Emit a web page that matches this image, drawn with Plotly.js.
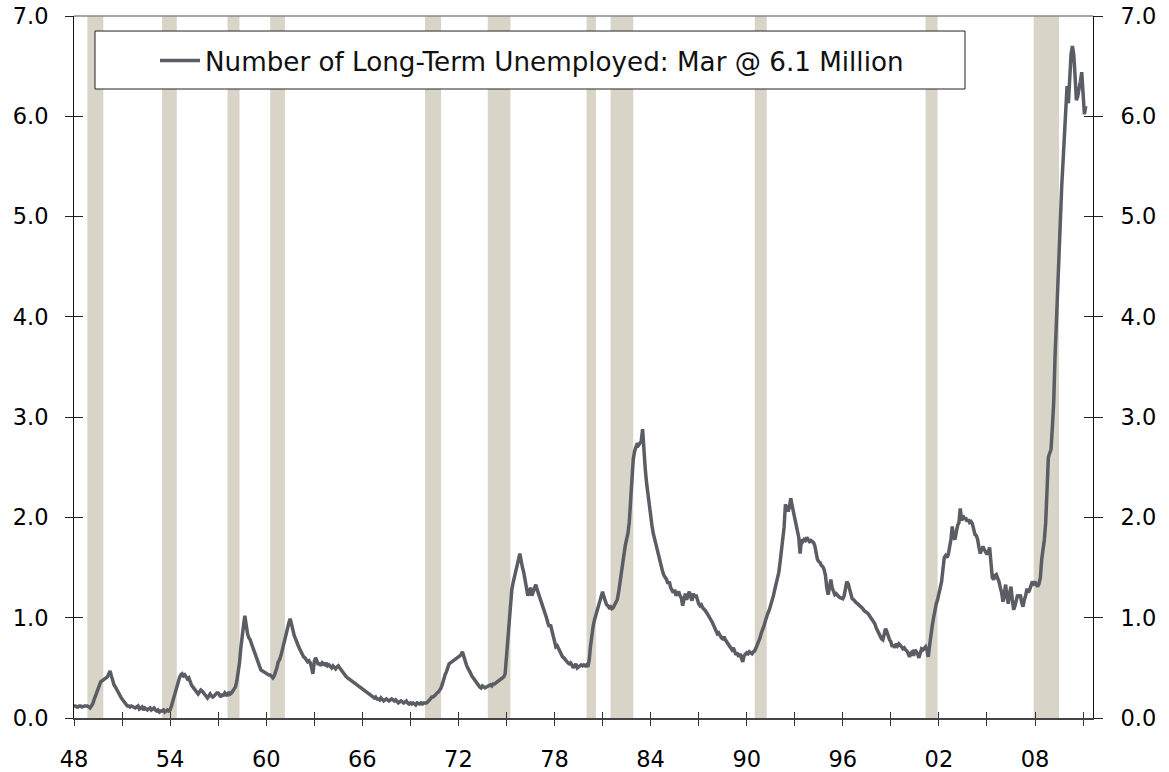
<!DOCTYPE html>
<html>
<head>
<meta charset="utf-8">
<script src="https://cdn.plot.ly/plotly-3.0.1.min.js"></script>
<style>html,body{margin:0;padding:0;background:#fff;}#chart{width:1169px;height:772px;}</style>
</head>
<body>
<div id="chart"></div>
<script>
// Number of long-term unemployed (27 weeks and over), millions, monthly from Jan 1948
const startYear = 1948;
const lt1948_1957 = [
 0.12,0.12,0.11,0.11,0.12,0.12,0.11,0.12,0.12,0.12,0.12,0.11,
 0.10,0.12,0.14,0.18,0.22,0.26,0.30,0.34,0.36,0.37,0.38,0.39,
 0.40,0.41,0.44,0.47,0.42,0.37,0.33,0.31,0.28,0.26,0.23,0.21,
 0.19,0.17,0.15,0.13,0.12,0.12,0.11,0.12,0.11,0.11,0.10,0.11,
 0.12,0.09,0.10,0.11,0.08,0.10,0.09,0.08,0.09,0.10,0.08,0.09,
 0.10,0.08,0.07,0.08,0.06,0.07,0.07,0.08,0.06,0.07,0.08,0.07,
 0.08,0.12,0.17,0.22,0.27,0.33,0.37,0.40,0.43,0.44,0.42,0.43,
 0.41,0.39,0.40,0.36,0.33,0.31,0.29,0.27,0.25,0.24,0.26,0.28,
 0.27,0.25,0.23,0.21,0.20,0.22,0.24,0.22,0.21,0.22,0.24,0.25,
 0.25,0.23,0.21,0.24,0.22,0.25,0.24,0.22,0.26,0.24,0.25,0.27
];
const lt1958_1967 = [
 0.28,0.31,0.37,0.46,0.55,0.70,0.85,0.92,1.02,0.90,0.84,0.80,
 0.78,0.74,0.70,0.66,0.62,0.58,0.54,0.51,0.48,0.47,0.46,0.46,
 0.45,0.44,0.43,0.43,0.42,0.40,0.42,0.45,0.50,0.56,0.58,0.62,
 0.68,0.72,0.78,0.84,0.90,0.95,0.99,0.92,0.86,0.82,0.79,0.74,
 0.72,0.69,0.66,0.63,0.61,0.60,0.58,0.56,0.57,0.55,0.50,0.44,
 0.56,0.60,0.57,0.53,0.55,0.52,0.55,0.54,0.53,0.55,0.52,0.53,
 0.52,0.50,0.52,0.50,0.49,0.51,0.52,0.50,0.48,0.46,0.44,0.42,
 0.41,0.40,0.39,0.38,0.37,0.36,0.35,0.35,0.34,0.32,0.31,0.30,
 0.29,0.28,0.27,0.26,0.25,0.24,0.23,0.22,0.21,0.20,0.21,0.19,
 0.19,0.18,0.20,0.18,0.17,0.18,0.19,0.18,0.17,0.18,0.19,0.18
];
const lt1968_1977 = [
 0.17,0.18,0.16,0.15,0.16,0.17,0.16,0.15,0.16,0.17,0.15,0.14,
 0.15,0.14,0.15,0.14,0.13,0.15,0.14,0.14,0.15,0.14,0.15,0.15,
 0.15,0.16,0.17,0.19,0.21,0.21,0.22,0.24,0.25,0.26,0.28,0.30,
 0.34,0.40,0.43,0.46,0.50,0.54,0.55,0.56,0.57,0.58,0.59,0.60,
 0.60,0.62,0.63,0.66,0.61,0.56,0.53,0.50,0.48,0.45,0.42,0.40,
 0.38,0.36,0.34,0.32,0.31,0.30,0.32,0.31,0.30,0.31,0.32,0.32,
 0.33,0.32,0.34,0.34,0.35,0.36,0.37,0.37,0.38,0.40,0.41,0.44,
 0.60,0.75,0.95,1.15,1.28,1.35,1.40,1.48,1.52,1.58,1.64,1.55,
 1.50,1.45,1.38,1.28,1.22,1.25,1.30,1.22,1.26,1.30,1.33,1.28,
 1.24,1.20,1.17,1.14,1.10,1.05,1.00,0.95,0.91,0.93,0.88,0.83
];
const lt1978_1987 = [
 0.76,0.71,0.72,0.69,0.66,0.63,0.61,0.60,0.58,0.57,0.55,0.54,
 0.55,0.53,0.50,0.52,0.54,0.50,0.51,0.52,0.53,0.52,0.53,0.52,
 0.53,0.51,0.58,0.72,0.85,0.92,0.98,1.03,1.08,1.11,1.18,1.24,
 1.26,1.21,1.15,1.13,1.12,1.10,1.11,1.09,1.10,1.13,1.16,1.18,
 1.25,1.35,1.47,1.58,1.66,1.72,1.78,1.84,1.95,2.15,2.41,2.58,
 2.66,2.71,2.74,2.72,2.74,2.76,2.88,2.62,2.48,2.34,2.22,2.12,
 2.02,1.92,1.84,1.78,1.72,1.66,1.60,1.56,1.52,1.46,1.42,1.40,
 1.38,1.34,1.36,1.30,1.27,1.25,1.28,1.22,1.24,1.26,1.22,1.20,
 1.12,1.20,1.24,1.18,1.22,1.26,1.21,1.17,1.24,1.20,1.23,1.18,
 1.14,1.12,1.13,1.10,1.09,1.07,1.05,1.03,1.01,0.98,0.96,0.93
];
const lt1988_1997 = [
 0.90,0.86,0.84,0.85,0.82,0.80,0.79,0.81,0.78,0.76,0.74,0.72,
 0.70,0.68,0.70,0.66,0.63,0.65,0.61,0.64,0.59,0.56,0.62,0.64,
 0.65,0.64,0.66,0.65,0.64,0.66,0.67,0.70,0.73,0.76,0.80,0.85,
 0.88,0.92,0.97,1.02,1.05,1.08,1.12,1.17,1.22,1.28,1.33,1.38,
 1.45,1.55,1.66,1.76,1.90,2.13,2.10,2.06,2.10,2.19,2.12,2.05,
 1.98,1.94,1.85,1.80,1.64,1.78,1.76,1.78,1.77,1.80,1.78,1.76,
 1.77,1.76,1.75,1.72,1.64,1.58,1.56,1.55,1.52,1.51,1.48,1.42,
 1.30,1.23,1.30,1.38,1.30,1.25,1.23,1.24,1.22,1.21,1.20,1.19,
 1.19,1.22,1.32,1.36,1.34,1.28,1.22,1.19,1.18,1.16,1.15,1.14,
 1.13,1.12,1.10,1.09,1.07,1.06,1.06,1.04,1.02,1.00,0.98,0.96
];
const lt1998_2007 = [
 0.94,0.90,0.87,0.84,0.82,0.79,0.78,0.84,0.89,0.86,0.80,0.78,
 0.76,0.71,0.73,0.70,0.74,0.72,0.74,0.73,0.71,0.69,0.70,0.68,
 0.67,0.64,0.61,0.65,0.66,0.62,0.68,0.66,0.64,0.60,0.66,0.69,
 0.68,0.70,0.71,0.68,0.61,0.72,0.85,0.92,1.00,1.08,1.14,1.18,
 1.24,1.30,1.36,1.48,1.60,1.62,1.60,1.63,1.70,1.78,1.91,1.80,
 1.78,1.86,1.92,1.95,2.09,1.97,2.02,1.98,2.00,1.96,1.98,1.95,
 1.96,1.94,1.88,1.83,1.82,1.78,1.70,1.64,1.68,1.71,1.68,1.66,
 1.63,1.66,1.70,1.55,1.40,1.38,1.42,1.43,1.40,1.36,1.30,1.25,
 1.16,1.24,1.33,1.20,1.14,1.25,1.31,1.18,1.08,1.12,1.18,1.23,
 1.20,1.23,1.15,1.11,1.18,1.22,1.29,1.25,1.28,1.32,1.36,1.34
];
const lt2008_2011 = [
 1.36,1.33,1.31,1.34,1.40,1.58,1.66,1.78,1.95,2.25,2.60,2.64,
 2.68,2.90,3.15,3.60,3.95,4.35,4.75,5.05,5.30,5.55,5.85,6.10,
 6.30,6.13,6.45,6.62,6.70,6.62,6.40,6.16,6.20,6.26,6.35,6.44,
 6.20,6.02,6.10
];

// NBER recessions (peak month, trough month)
const recStart = ['1948-11','1953-07','1957-08','1960-04','1969-12','1973-11','1980-01','1981-07','1990-07','2001-03','2007-12'];
const recEnd   = ['1949-10','1954-05','1958-04','1961-02','1970-11','1975-03','1980-07','1982-11','1991-03','2001-11','2009-06'];

const tickYears  = [1948,1954,1960,1966,1972,1978,1984,1990,1996,2002,2008];
const tickLabels = ['48','54','60','66','72','78','84','90','96','02','08'];
const yTickVals  = [0,1,2,3,4,5,6,7];

const seriesName = 'Number of Long-Term Unemployed: Mar @ 6.1 Million';

const values = [].concat(lt1948_1957, lt1958_1967, lt1968_1977, lt1978_1987, lt1988_1997, lt1998_2007, lt2008_2011);
const xs = values.map((v, i) => startYear + i / 12);

function ym(s, endOfMonth) {
  const p = s.split('-');
  return +p[0] + (+p[1] - (endOfMonth ? 0 : 1)) / 12;
}

const shapes = recStart.map((s, i) => ({
  type: 'rect', xref: 'x', yref: 'paper', layer: 'below',
  x0: ym(s, false), x1: ym(recEnd[i], true), y0: 0, y1: 1,
  fillcolor: '#d8d4c8', line: {width: 0}
}));
// legend box
shapes.push({type:'rect', xref:'paper', yref:'paper', layer:'below',
  x0: 0.0206, x1: 0.8744, y0: 0.8960, y1: 0.9786,
  fillcolor:'#ffffff', line:{color:'#222', width:1}});
// top frame line
shapes.push({type:'line', xref:'paper', yref:'paper', layer:'above',
  x0: 0, x1: 1, y0: 1, y1: 1, line:{color:'#8a8a8a', width:1.5}});

const FONT = 'DejaVu Sans, Verdana, sans-serif';

const traces = [
  {x: xs, y: values, type: 'scatter', mode: 'lines', name: seriesName,
   line: {color: '#5a5d63', width: 3.5}, hoverinfo: 'x+y'},
  {x: [null], y: [null], xaxis: 'x2', yaxis: 'y', showlegend: false, hoverinfo: 'skip', mode: 'lines'},
  {x: [null], y: [null], xaxis: 'x', yaxis: 'y2', showlegend: false, hoverinfo: 'skip', mode: 'lines'},
  {x: [null], y: [null], xaxis: 'x', yaxis: 'y3', showlegend: false, hoverinfo: 'skip', mode: 'lines'},
  {x: [null], y: [null], xaxis: 'x', yaxis: 'y4', showlegend: false, hoverinfo: 'skip', mode: 'lines'}
];

const xRange = [1948, 2011.62];
const yRange = [0, 7];

const layout = {
  width: 1169, height: 772,
  margin: {l: 74, r: 76, t: 16, b: 54, pad: 0},
  paper_bgcolor: '#ffffff', plot_bgcolor: '#ffffff',
  font: {family: FONT, size: 22, color: '#000'},
  showlegend: true,
  legend: {x: 0.0795, y: 0.9359, xanchor: 'left', yanchor: 'middle', itemwidth: 40,
           bgcolor: 'rgba(0,0,0,0)', borderwidth: 0, font: {family: FONT, size: 26.2, color: '#111'}},
  xaxis: {range: xRange, tickmode: 'array', tickvals: tickYears, ticktext: tickLabels,
          ticks: 'outside', ticklen: 6, tickwidth: 1, tickcolor: '#333',
          minor: {tickmode: 'linear', tick0: 1948, dtick: 3, ticks: 'outside', ticklen: 6, tickwidth: 1, tickcolor: '#333', showgrid: false},
          showline: true, linecolor: '#444', linewidth: 2, showgrid: false, zeroline: false,
          ticklabelstandoff: 14, tickfont: {family: FONT, size: 22.5, color: '#000'}},
  xaxis2: {range: xRange, overlaying: 'x', anchor: 'y', side: 'bottom',
           tickmode: 'linear', tick0: 1948, dtick: 3, ticks: 'inside', ticklen: 6, tickwidth: 1, tickcolor: '#333',
           showticklabels: false, showline: false, showgrid: false, zeroline: false},
  yaxis: {range: yRange, tickmode: 'array', tickvals: yTickVals, tickformat: '.1f',
          ticks: 'outside', ticklen: 8, tickwidth: 1, tickcolor: '#222',
          showline: true, linecolor: '#111', linewidth: 1, showgrid: false, zeroline: false,
          ticklabelstandoff: 12, tickfont: {family: FONT, size: 22.5, color: '#000'}},
  yaxis2: {range: yRange, overlaying: 'y', side: 'right', anchor: 'x',
           tickmode: 'array', tickvals: yTickVals, tickformat: '.1f',
           ticks: 'outside', ticklen: 9, tickwidth: 1, tickcolor: '#222',
           showline: true, linecolor: '#111', linewidth: 1, showgrid: false, zeroline: false,
           ticklabelstandoff: 13, tickfont: {family: FONT, size: 22.5, color: '#000'}},
  yaxis3: {range: yRange, overlaying: 'y', side: 'left', anchor: 'x',
           tickmode: 'array', tickvals: yTickVals, ticks: 'inside', ticklen: 9, tickwidth: 1, tickcolor: '#222',
           showticklabels: false, showline: false, showgrid: false, zeroline: false},
  yaxis4: {range: yRange, overlaying: 'y', side: 'right', anchor: 'x',
           tickmode: 'array', tickvals: yTickVals, ticks: 'inside', ticklen: 9, tickwidth: 1, tickcolor: '#222',
           showticklabels: false, showline: false, showgrid: false, zeroline: false},
  shapes: shapes
};

Plotly.newPlot('chart', traces, layout, {displayModeBar: false, staticPlot: true});
</script>
</body>
</html>
